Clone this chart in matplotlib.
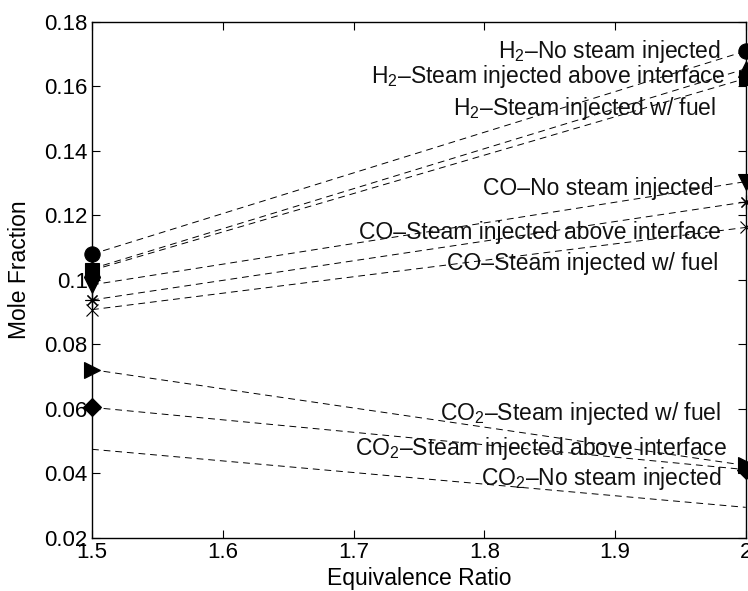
import matplotlib
matplotlib.use("Agg")
import matplotlib.pyplot as plt

plt.rcParams['font.family'] = ['Liberation Sans', 'DejaVu Sans']
plt.rcParams['mathtext.fontset'] = 'custom'
plt.rcParams['mathtext.rm'] = 'Liberation Sans'
plt.rcParams['mathtext.it'] = 'Liberation Sans'

# Equivalence ratios at which each case was evaluated
phi = [1.5, 2.0]

# Mole fractions for each species / steam-injection case
h2_no_steam = [0.108, 0.171]
h2_above = [0.1035, 0.1655]
h2_fuel = [0.1030, 0.1625]
co_no_steam = [0.0985, 0.1305]
co_above = [0.0938, 0.1242]
co_fuel = [0.0908, 0.1163]
co2_fuel = [0.0722, 0.0425]
co2_above = [0.0605, 0.0412]
co2_no_steam = [0.0475, 0.0295]

labels = [
    r"H$_2$–No steam injected",
    r"H$_2$–Steam injected above interface",
    r"H$_2$–Steam injected w/ fuel",
    "CO–No steam injected",
    "CO–Steam injected above interface",
    "CO–Steam injected w/ fuel",
    r"CO$_2$–Steam injected w/ fuel",
    r"CO$_2$–Steam injected above interface",
    r"CO$_2$–No steam injected",
]
label_y = [0.1707, 0.1632, 0.1533, 0.1284, 0.1148, 0.1052, 0.0587, 0.0478, 0.0385]
label_x = [1.981, 1.984, 1.9775, 1.9755, 1.981, 1.979, 1.981, 1.9855, 1.9815]

asterisk = (8, 2, 0)
series = [
    (h2_no_steam, 'o', 11),
    (h2_above, '^', 11),
    (h2_fuel, 's', 10),
    (co_no_steam, 'v', 11),
    (co_above, asterisk, 10),
    (co_fuel, 'x', 9),
    (co2_fuel, '>', 11),
    (co2_above, 'D', 9),
    (co2_no_steam, 'None', 0),
]

fig = plt.figure(figsize=(7.48, 5.91), dpi=100)
ax = fig.add_axes([0.123, 0.0897, 0.874, 0.8731])

for vals, mk, ms in series:
    ax.plot(phi, vals, linestyle=(0, (7, 5)), color='black', linewidth=0.7,
            marker=mk, markersize=ms, markerfacecolor='black',
            markeredgecolor='black', markeredgewidth=0.8, clip_on=False)

for txt, x, y in zip(labels, label_x, label_y):
    ax.text(x, y, txt, ha='right', va='center', fontsize=16.5, color='#111111')

ax.set_xlim(1.5, 2.0)
ax.set_ylim(0.02, 0.18)
ax.set_xticks([1.5, 1.6, 1.7, 1.8, 1.9, 2.0])
ax.set_xticklabels(['1.5', '1.6', '1.7', '1.8', '1.9', '2'])
ax.set_yticks([0.02, 0.04, 0.06, 0.08, 0.10, 0.12, 0.14, 0.16, 0.18])
ax.set_yticklabels(['0.02', '0.04', '0.06', '0.08', '0.1', '0.12', '0.14', '0.16', '0.18'])
ax.tick_params(direction='in', length=6, width=0.8, top=True, right=True,
               labelsize=16, pad=3)
for sp in ax.spines.values():
    sp.set_linewidth(1.0)

ax.set_xlabel('Equivalence Ratio', fontsize=16.5, labelpad=3)
ax.set_ylabel('Mole Fraction', fontsize=16.5)
ax.yaxis.set_label_coords(-0.094, 0.52)

fig.savefig('out.png', dpi=100)
